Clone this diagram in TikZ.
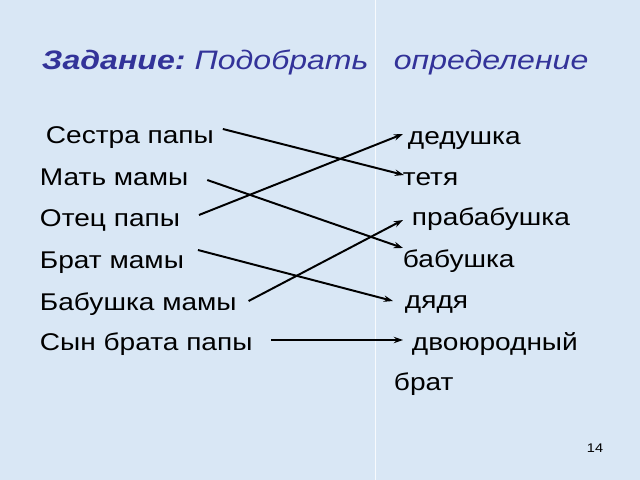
\documentclass[tikz,border=0pt]{standalone}
\usepackage{fontspec}
\setmainfont{Liberation Sans}[FakeStretch=1.16]
\newfontfamily\titlefont{Liberation Sans}[FakeStretch=1.2]
\usetikzlibrary{arrows.meta, positioning, calc}
\definecolor{cbg}{HTML}{D9E7F5}
\definecolor{ctitle}{HTML}{333399}
\tikzset{
  every picture/.style={line width=1.4pt},
  word/.style={anchor=base west, inner sep=0pt, font=\fontsize{17.2}{20}\selectfont},
  link/.style={-{Stealth[length=2.3mm, width=1.6mm]}, draw=black, line width=1.4pt},
}
\begin{document}
\begin{tikzpicture}[x=0.025cm, y=-0.025cm]
  \fill[cbg] (0,0) rectangle (640,480);
  \useasboundingbox (0,0) rectangle (640,480);
  \draw[white, line width=0.6pt, opacity=0.8] (375,0) -- (375,480);
  % title
  \node[anchor=base west, inner sep=0pt, text=ctitle, font=\titlefont\fontsize{19}{24}\selectfont] (title) at (41,69)
    {\textbf{\textit{Задание:}}\hspace{6.5pt}\textit{Подобрать}\hspace{18pt}\textit{определение}};
  % left column
  \foreach \t/\n/\x/\y in {Сестра папы/l1/45/143, Мать мамы/l2/39/185, Отец папы/l3/39/226, Брат мамы/l4/39/268, Бабушка мамы/l5/39/310, Сын брата папы/l6/39/350}
    \node[word] (\n) at (\x,\y) {\t};
  % right column
  \foreach \t/\n/\x/\y in {дедушка/r1/407/144, тетя/r2/402/185, прабабушка/r3/411/225, бабушка/r4/402/267, дядя/r5/404/308, двоюродный/r6/411/350, брат/r7/393/390}
    \node[word] (\n) at (\x,\y) {\t};
  % links
  \draw[link] ($(l1.base east)+(8,-14)$) -- ($(r2.base west)+(2,-10)$);
  \draw[link] ($(l2.base east)+(18,-5)$) -- ($(r4.base west)+(1,-19)$);
  \draw[link] ($(l3.base east)+(18,-11)$) -- ($(r1.base west)+(-4,-10)$);
  \draw[link] ($(l4.base east)+(13,-18)$) -- ($(r5.base west)+(-11,-7)$);
  \draw[link] ($(l5.base east)+(11,-9)$) -- ($(r3.base west)+(-8,-5)$);
  \draw[link] ($(l6.base east)+(18,-10)$) -- ($(r6.base west)+(-8,-10)$);
  % page number
  \node[anchor=base, inner sep=0pt, font=\fontsize{8.9}{10}\selectfont] (num) at (595,452) {14};
\end{tikzpicture}
\end{document}
